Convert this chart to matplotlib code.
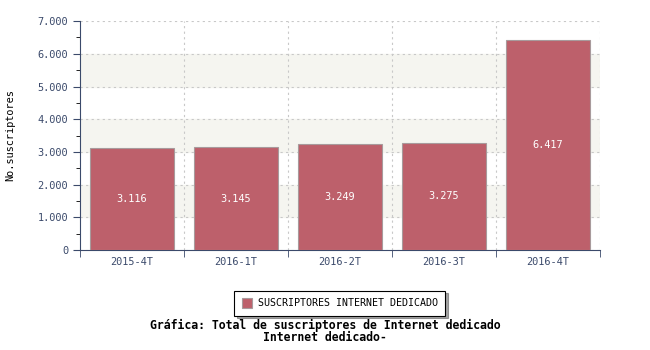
import matplotlib.pyplot as plt
from matplotlib.ticker import MultipleLocator, FuncFormatter

# data
periodos = ['2015-4T', '2016-1T', '2016-2T', '2016-3T', '2016-4T']
suscriptores = [3116, 3145, 3249, 3275, 6417]

bar_color = '#bd606b'
axis_color = '#3b4a6b'
plt.rcParams['font.family'] = 'DejaVu Sans Mono'


def miles(v, pos=None):
    return '{:,.0f}'.format(v).replace(',', '.')


fig = plt.figure(figsize=(6.5, 3.5), dpi=100)
ax = fig.add_axes([0.123, 0.2857, 0.8, 0.654])

# bandas grises alternas
for lo in (1000, 3000, 5000):
    ax.axhspan(lo, lo + 1000, color='#f5f5f0', zorder=0)

x = list(range(len(periodos)))
bars = ax.bar(x, suscriptores, width=0.81, color=bar_color, edgecolor='#a89a9c',
              linewidth=0.8, zorder=3, label='SUSCRIPTORES INTERNET DEDICADO')

for xi, v in zip(x, suscriptores):
    ax.text(xi, v / 2, miles(v), ha='center', va='center', color='white',
            fontsize=7.4, zorder=4)

ax.set_xlim(-0.5, len(periodos) - 0.5)
ax.set_ylim(0, 7000)
ax.yaxis.set_major_locator(MultipleLocator(1000))
ax.yaxis.set_minor_locator(MultipleLocator(500))
ax.yaxis.set_major_formatter(FuncFormatter(miles))
ax.set_xticks(x)
ax.set_xticklabels(periodos)
ax.set_xticks([i + 0.5 for i in range(-1, len(periodos))], minor=True)

ax.grid(axis='y', which='major', linestyle=(0, (2, 3)), color='#c8c8c8', linewidth=0.8, zorder=1)
for b in range(len(periodos)):
    ax.axvline(b + 0.5, linestyle=(0, (2, 3)), color='#c8c8c8', linewidth=0.8, zorder=1)

for s in ('top', 'right'):
    ax.spines[s].set_visible(False)
for s in ('left', 'bottom'):
    ax.spines[s].set_color(axis_color)
ax.tick_params(axis='both', colors=axis_color, labelsize=7.4)
ax.tick_params(axis='x', which='major', length=0, pad=5)
ax.tick_params(axis='x', which='minor', length=5, color=axis_color)
ax.tick_params(axis='y', which='major', length=5)
ax.tick_params(axis='y', which='minor', length=3)

ax.set_ylabel('No.suscriptores', fontsize=7.4, labelpad=16)

leg = ax.legend(loc='center', bbox_to_anchor=(0.5, -0.232), fontsize=7.2, frameon=True,
                fancybox=False, shadow=True, edgecolor='black', handlelength=1,
                handleheight=1.1, borderpad=0.75, handletextpad=0.6, borderaxespad=0)
leg.get_frame().set_linewidth(0.8)

fig.text(0.5, 0.059, 'Gráfica: Total de suscriptores de Internet dedicado',
         ha='center', fontsize=8.3, fontweight='bold')
fig.text(0.5, 0.026, 'Internet dedicado-', ha='center', fontsize=8.3, fontweight='bold')

plt.savefig('out.png', dpi=100)
